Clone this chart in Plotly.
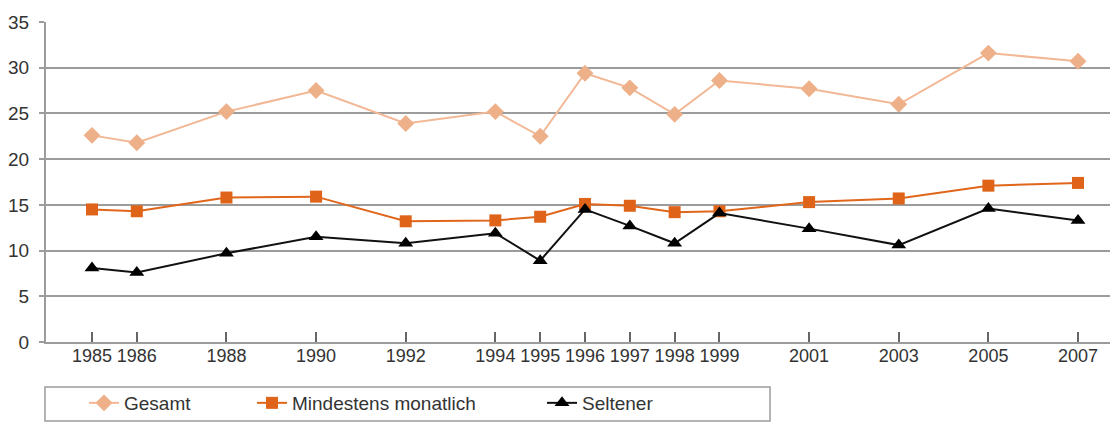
import plotly.graph_objects as go

years = [1985, 1986, 1988, 1990, 1992, 1994, 1995, 1996, 1997, 1998, 1999, 2001, 2003, 2005, 2007]
gesamt = [22.6, 21.8, 25.2, 27.5, 23.9, 25.2, 22.5, 29.4, 27.8, 24.9, 28.6, 27.7, 26.0, 31.6, 30.7]
mindestens = [14.5, 14.3, 15.8, 15.9, 13.2, 13.3, 13.7, 15.1, 14.9, 14.2, 14.3, 15.3, 15.7, 17.1, 17.4]
seltener = [8.1, 7.6, 9.7, 11.5, 10.8, 11.9, 8.9, 14.5, 12.7, 10.8, 14.1, 12.4, 10.6, 14.6, 13.3]
names = ["Gesamt", "Mindestens monatlich", "Seltener"]
y_ticks = [0, 5, 10, 15, 20, 25, 30, 35]
tick_labels = [str(y) for y in years]

FONT = "Liberation Sans, Arial, sans-serif"
GRID = "#9c9c9c"

fig = go.Figure()
fig.add_trace(go.Scatter(x=years, y=gesamt, name=names[0], mode="lines+markers",
                         line=dict(color="#F2B896", width=2),
                         marker=dict(symbol="diamond", size=13, color="#EDB089"),
                         legend="legend"))
fig.add_trace(go.Scatter(x=years, y=mindestens, name=names[1], mode="lines+markers",
                         line=dict(color="#E0661C", width=2),
                         marker=dict(symbol="square", size=12, color="#DF6318"),
                         legend="legend2"))
fig.add_trace(go.Scatter(x=years, y=seltener, name=names[2], mode="lines+markers",
                         line=dict(color="#111111", width=2),
                         marker=dict(symbol="triangle-up", size=13, color="#000000"),
                         legend="legend3"))

# the page body has an 8px margin, so the figure is shrunk by that offset
OFF = 8
W, H = 1118 - OFF, 422 - OFF
L, R, T, B = 46 - OFF, 0, 22 - OFF, 80
pw, ph = W - L - R, H - T - B

def px(sx):
    return (sx - OFF - L) / pw

def py(sy):
    return (OFF + T + ph - sy) / ph

leg_common = dict(orientation="h", yanchor="middle", xanchor="left",
                  bgcolor="rgba(0,0,0,0)", borderwidth=0,
                  font=dict(family=FONT, size=19, color="#333333"))

fig.update_layout(
    width=W, height=H,
    margin=dict(l=L, r=R, t=T, b=B, autoexpand=False),
    paper_bgcolor="white", plot_bgcolor="white",
    font=dict(family=FONT, size=18, color="#333333"),
    showlegend=True,
    legend=dict(x=px(84), y=py(403), **leg_common),
    legend2=dict(x=px(252), y=py(403), **leg_common),
    legend3=dict(x=px(542), y=py(403), **leg_common),
    shapes=[dict(type="rect", xref="paper", yref="paper",
                 x0=px(45), x1=px(770), y0=py(421), y1=py(387),
                 line=dict(color="#9c9c9c", width=1.5), fillcolor="rgba(0,0,0,0)")],
)

fig.update_xaxes(range=[1983.974, 2007.892], tickmode="array", tickvals=years,
                 ticktext=tick_labels, tickangle=0,
                 showgrid=False, zeroline=False, showline=True, linecolor=GRID, linewidth=2,
                 ticks="inside", ticklen=10, tickwidth=1.5, tickcolor="#666666",
                 ticklabelstandoff=-4,
                 tickfont=dict(family=FONT, size=18, color="#333333"))
fig.update_yaxes(range=[0, 35], tickmode="array", tickvals=y_ticks,
                 showgrid=True, gridcolor=GRID, gridwidth=1.5, zeroline=False,
                 showline=True, linecolor=GRID, linewidth=2,
                 ticks="outside", ticklen=5, tickwidth=1.5, tickcolor=GRID,
                 ticklabelstandoff=6,
                 tickfont=dict(family=FONT, size=19, color="#333333"))

fig.write_html("out.html")
